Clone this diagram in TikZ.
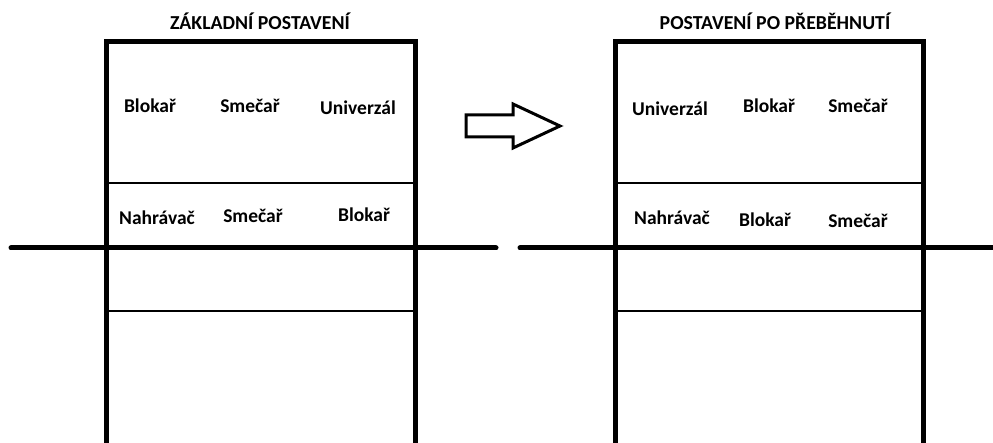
\documentclass[tikz,border=0pt]{standalone}
\usepackage{fontspec}
\setmainfont{Carlito}
\begin{document}
\begin{tikzpicture}[x=1bp,y=-1bp,
  court/.style={line width=5bp,line join=miter},
  netline/.style={line width=5bp,line cap=round},
  thinline/.style={line width=2bp},
  title/.style={anchor=base,inner sep=0pt,font=\bfseries\fontsize{19.8bp}{22bp}\selectfont},
  player/.style={anchor=base,inner sep=0pt,font=\bfseries\fontsize{19.5bp}{22bp}\selectfont},
  bigarrow/.style={line width=3bp,fill=white,line join=miter}]
\useasboundingbox (0,0) rectangle (993,443);
% left court
\draw[court] (106,450) -- (106,42) -- (415.5,42) -- (415.5,450);
\draw[thinline] (106,183) -- (415.5,183);
\draw[thinline] (106,311) -- (415.5,311);
\draw[netline] (11,248) -- (496,248);
% right court
\draw[court] (615,450) -- (615,42) -- (923.5,42) -- (923.5,450);
\draw[thinline] (615,183) -- (923.5,183);
\draw[thinline] (615,311) -- (923.5,311);
\draw[netline] (520,248) -- (1000,248);
% arrow
\draw[bigarrow] (466,115) -- (513,115) -- (513,104) -- (560,126) -- (513,148) -- (513,137) -- (466,137) -- cycle;
% titles
\node[title] (t1) at (260,30) {ZÁKLADNÍ POSTAVENÍ};
\node[title] (t2) at (775,29.5) {POSTAVENÍ PO PŘEBĚHNUTÍ};
% left court players
\node[player] (l1) at (150,113) {Blokař};
\node[player] (l2) at (250,113) {Smečař};
\node[player] (l3) at (358,115) {Univerzál};
\node[player] (l4) at (157,225) {Nahrávač};
\node[player] (l5) at (253,222.5) {Smečař};
\node[player] (l6) at (364,221.5) {Blokař};
% right court players
\node[player] (r1) at (670,116) {Univerzál};
\node[player] (r2) at (769,112.5) {Blokař};
\node[player] (r3) at (858,113) {Smečař};
\node[player] (r4) at (672,225) {Nahrávač};
\node[player] (r5) at (765,226.5) {Blokař};
\node[player] (r6) at (858,227.5) {Smečař};
\end{tikzpicture}
\end{document}
